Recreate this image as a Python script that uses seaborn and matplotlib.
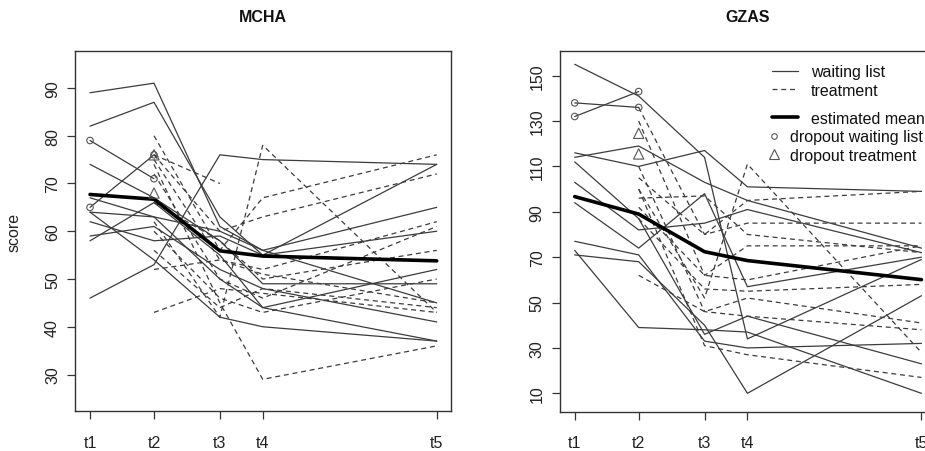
import numpy as np
import pandas as pd
import seaborn as sns
import matplotlib.pyplot as plt
from matplotlib.lines import Line2D

nan = np.nan
times = ['t1', 't2', 't3', 't4', 't5']
time_pos = [0, 1.0, 2.03, 2.70, 5.42]

# MCHA: one row per subject, scores at t1..t5
mcha_waiting = [
    [89, 91, 61, 56, 45],
    [82, 87, 63, 55, 60],
    [79, 71, nan, nan, nan],
    [74, 67, 58, 49, 49],
    [67, 63, 60, 56, 65],
    [65, 76, nan, nan, nan],
    [64, 54, 42, 40, 37],
    [62, 58, 59, 55, 74],
    [59, 61, 52, 48, 41],
    [58, 66, 55, 44, 52],
    [64, 63, 50, 44, 37],
    [46, 53, 76, 75, 74],
]
mcha_treatment = [
    [nan, 80, 56, 67, 76],
    [nan, 76, 70, nan, nan],
    [nan, 76, 60, 63, 72],
    [nan, 75, 54, 52, 62],
    [nan, 72, 50, 46, 61],
    [nan, 66, 58, 50, 56],
    [nan, 60, 46, 43, 50],
    [nan, 56, 44, 48, 44],
    [nan, 52, 54, 51, 45],
    [nan, 43, 48, 47, 43],
    [nan, 74, 45, 29, 36],
    [nan, 62, 42, 78, 43],
]
mcha_mean = [67.7, 66.7, 55.9, 54.8, 53.8]
mcha_drop_wait_t = ['t1', 't1', 't2', 't2']
mcha_drop_wait_v = [79, 65, 76, 71]
mcha_drop_treat_t = ['t2', 't2']
mcha_drop_treat_v = [68, 76]

# GZAS
gzas_waiting = [
    [155, 141, 114, 34, 69],
    [138, 136, nan, nan, nan],
    [132, 143, nan, nan, nan],
    [116, 110, 117, 101, 99],
    [114, 119, 103, 95, 74],
    [112, 87, 36, 44, 23],
    [103, 82, 85, 91, 72],
    [94, 74, 98, 57, 70],
    [77, 71, 33, 30, 32],
    [73, 39, 38, 37, 10],
    [71, 68, 40, 10, 53],
]
gzas_treatment = [
    [nan, 136, 80, 85, 85],
    [nan, 130, 62, 75, 75],
    [nan, 100, 52, 111, 28],
    [nan, 105, 80, 95, 99],
    [nan, 92, 62, 60, 75],
    [nan, 87, 56, 55, 58],
    [nan, 62, 46, 52, 41],
    [nan, 100, 31, 27, 17],
    [nan, 110, 46, 44, 38],
    [nan, 96, 97, 80, 72],
]
gzas_mean = [96.7, 89.0, 72.4, 68.5, 60.1]
gzas_drop_wait_t = ['t1', 't1', 't2', 't2']
gzas_drop_wait_v = [138, 132, 143, 136]
gzas_drop_treat_t = ['t2', 't2']
gzas_drop_treat_v = [124.6, 115.5]

pos_of = dict(zip(times, time_pos))
LINE = '#3c3c3c'
FS = 11.5


def long_frame(rows, group):
    recs = []
    for i, row in enumerate(rows):
        for pos, v in zip(time_pos, row):
            if not np.isnan(v):
                recs.append({'subject': f'{group}{i}', 'group': group, 'pos': pos, 'score': v})
    return pd.DataFrame(recs)


def draw_panel(ax, waiting, treatment, mean, dw_t, dw_v, dt_t, dt_v, ylim, yticks, title):
    df = pd.concat([long_frame(waiting, 'waiting list'), long_frame(treatment, 'treatment')])
    sns.lineplot(data=df, x='pos', y='score', units='subject', estimator=None,
                 style='group', dashes={'waiting list': '', 'treatment': (4, 3)},
                 color=LINE, lw=0.9, legend=False, ax=ax)
    sns.lineplot(x=time_pos, y=mean, color='black', lw=2.6, ax=ax)
    sns.scatterplot(x=[pos_of[t] for t in dw_t], y=dw_v, marker='o', s=22,
                    color='none', edgecolor='#555555', linewidth=0.8, ax=ax, zorder=5)
    sns.scatterplot(x=[pos_of[t] for t in dt_t], y=dt_v, marker='^', s=55,
                    color='none', edgecolor='#555555', linewidth=0.8, ax=ax, zorder=5)
    ax.set_xlim(-0.23, 5.643)
    ax.set_ylim(*ylim)
    ax.set_xticks(time_pos)
    ax.set_xticklabels(times)
    ax.set_yticks(yticks)
    ax.set_yticklabels([str(v) for v in yticks], rotation=90, va='center')
    ax.tick_params(axis='both', direction='out', length=6, width=0.9, color='#333333',
                   labelsize=FS, labelcolor='#222222', bottom=True, left=True)
    ax.tick_params(axis='x', pad=11)
    ax.tick_params(axis='y', pad=5)
    ax.set_xlabel('')
    ax.set_ylabel('')
    for sp in ax.spines.values():
        sp.set_visible(True)
        sp.set_color('#333333')
        sp.set_linewidth(1.0)
    ax.text(0.5, 1 + 33.7 / 360.6, title, transform=ax.transAxes, ha='center', va='center',
            fontsize=11.5, fontweight='bold', color='#111111')


sns.set_theme(style='white')
plt.rcParams['font.family'] = ['Liberation Sans', 'DejaVu Sans']

fig = plt.figure(figsize=(9.25, 4.52), dpi=100)
ax1 = fig.add_axes([75.3 / 925, 39.7 / 452, 375.7 / 925, 360.6 / 452])
ax2 = fig.add_axes([560 / 925, 39.3 / 452, 375.7 / 925, 361.0 / 452])

draw_panel(ax1, mcha_waiting, mcha_treatment, mcha_mean, mcha_drop_wait_t, mcha_drop_wait_v,
           mcha_drop_treat_t, mcha_drop_treat_v, (22.3, 97.8), [30, 40, 50, 60, 70, 80, 90], 'MCHA')
draw_panel(ax2, gzas_waiting, gzas_treatment, gzas_mean, gzas_drop_wait_t, gzas_drop_wait_v,
           gzas_drop_treat_t, gzas_drop_treat_v, (1.9, 161.0), [10, 30, 50, 70, 90, 110, 130, 150], 'GZAS')

ax1.set_ylabel('score', fontsize=FS, color='#222222')
ax1.yaxis.set_label_coords(-0.142, 0.5)

# legend, drawn in three pieces like the original
leg_kw = dict(frameon=False, fontsize=FS, borderpad=0, borderaxespad=0, loc='upper left',
              bbox_transform=fig.transFigure, labelcolor='#111111')
h1 = [Line2D([], [], color=LINE, lw=0.9), Line2D([], [], color=LINE, lw=0.9, dashes=(4, 3))]
leg1 = ax2.legend(h1, ['waiting list', 'treatment'], handlelength=1.65, handletextpad=0.8,
                  labelspacing=0.2, bbox_to_anchor=(771.7 / 925, 1 - 65.5 / 452), **leg_kw)
ax2.add_artist(leg1)
h2 = [Line2D([], [], color='black', lw=2.6)]
leg2 = ax2.legend(h2, ['estimated mean'], handlelength=1.65, handletextpad=0.8,
                  bbox_to_anchor=(771.7 / 925, 1 - 112 / 452), **leg_kw)
ax2.add_artist(leg2)
h3 = [Line2D([], [], ls='', marker='o', ms=4, mfc='none', mec='#555555', mew=0.8),
      Line2D([], [], ls='', marker='^', ms=7, mfc='none', mec='#555555', mew=0.8)]
ax2.legend(h3, ['dropout waiting list', 'dropout treatment'], handlelength=0.7, handletextpad=0.7,
           labelspacing=0.2, bbox_to_anchor=(768 / 925, 1 - 130.5 / 452), **leg_kw)

fig.savefig('out.png', dpi=100)
